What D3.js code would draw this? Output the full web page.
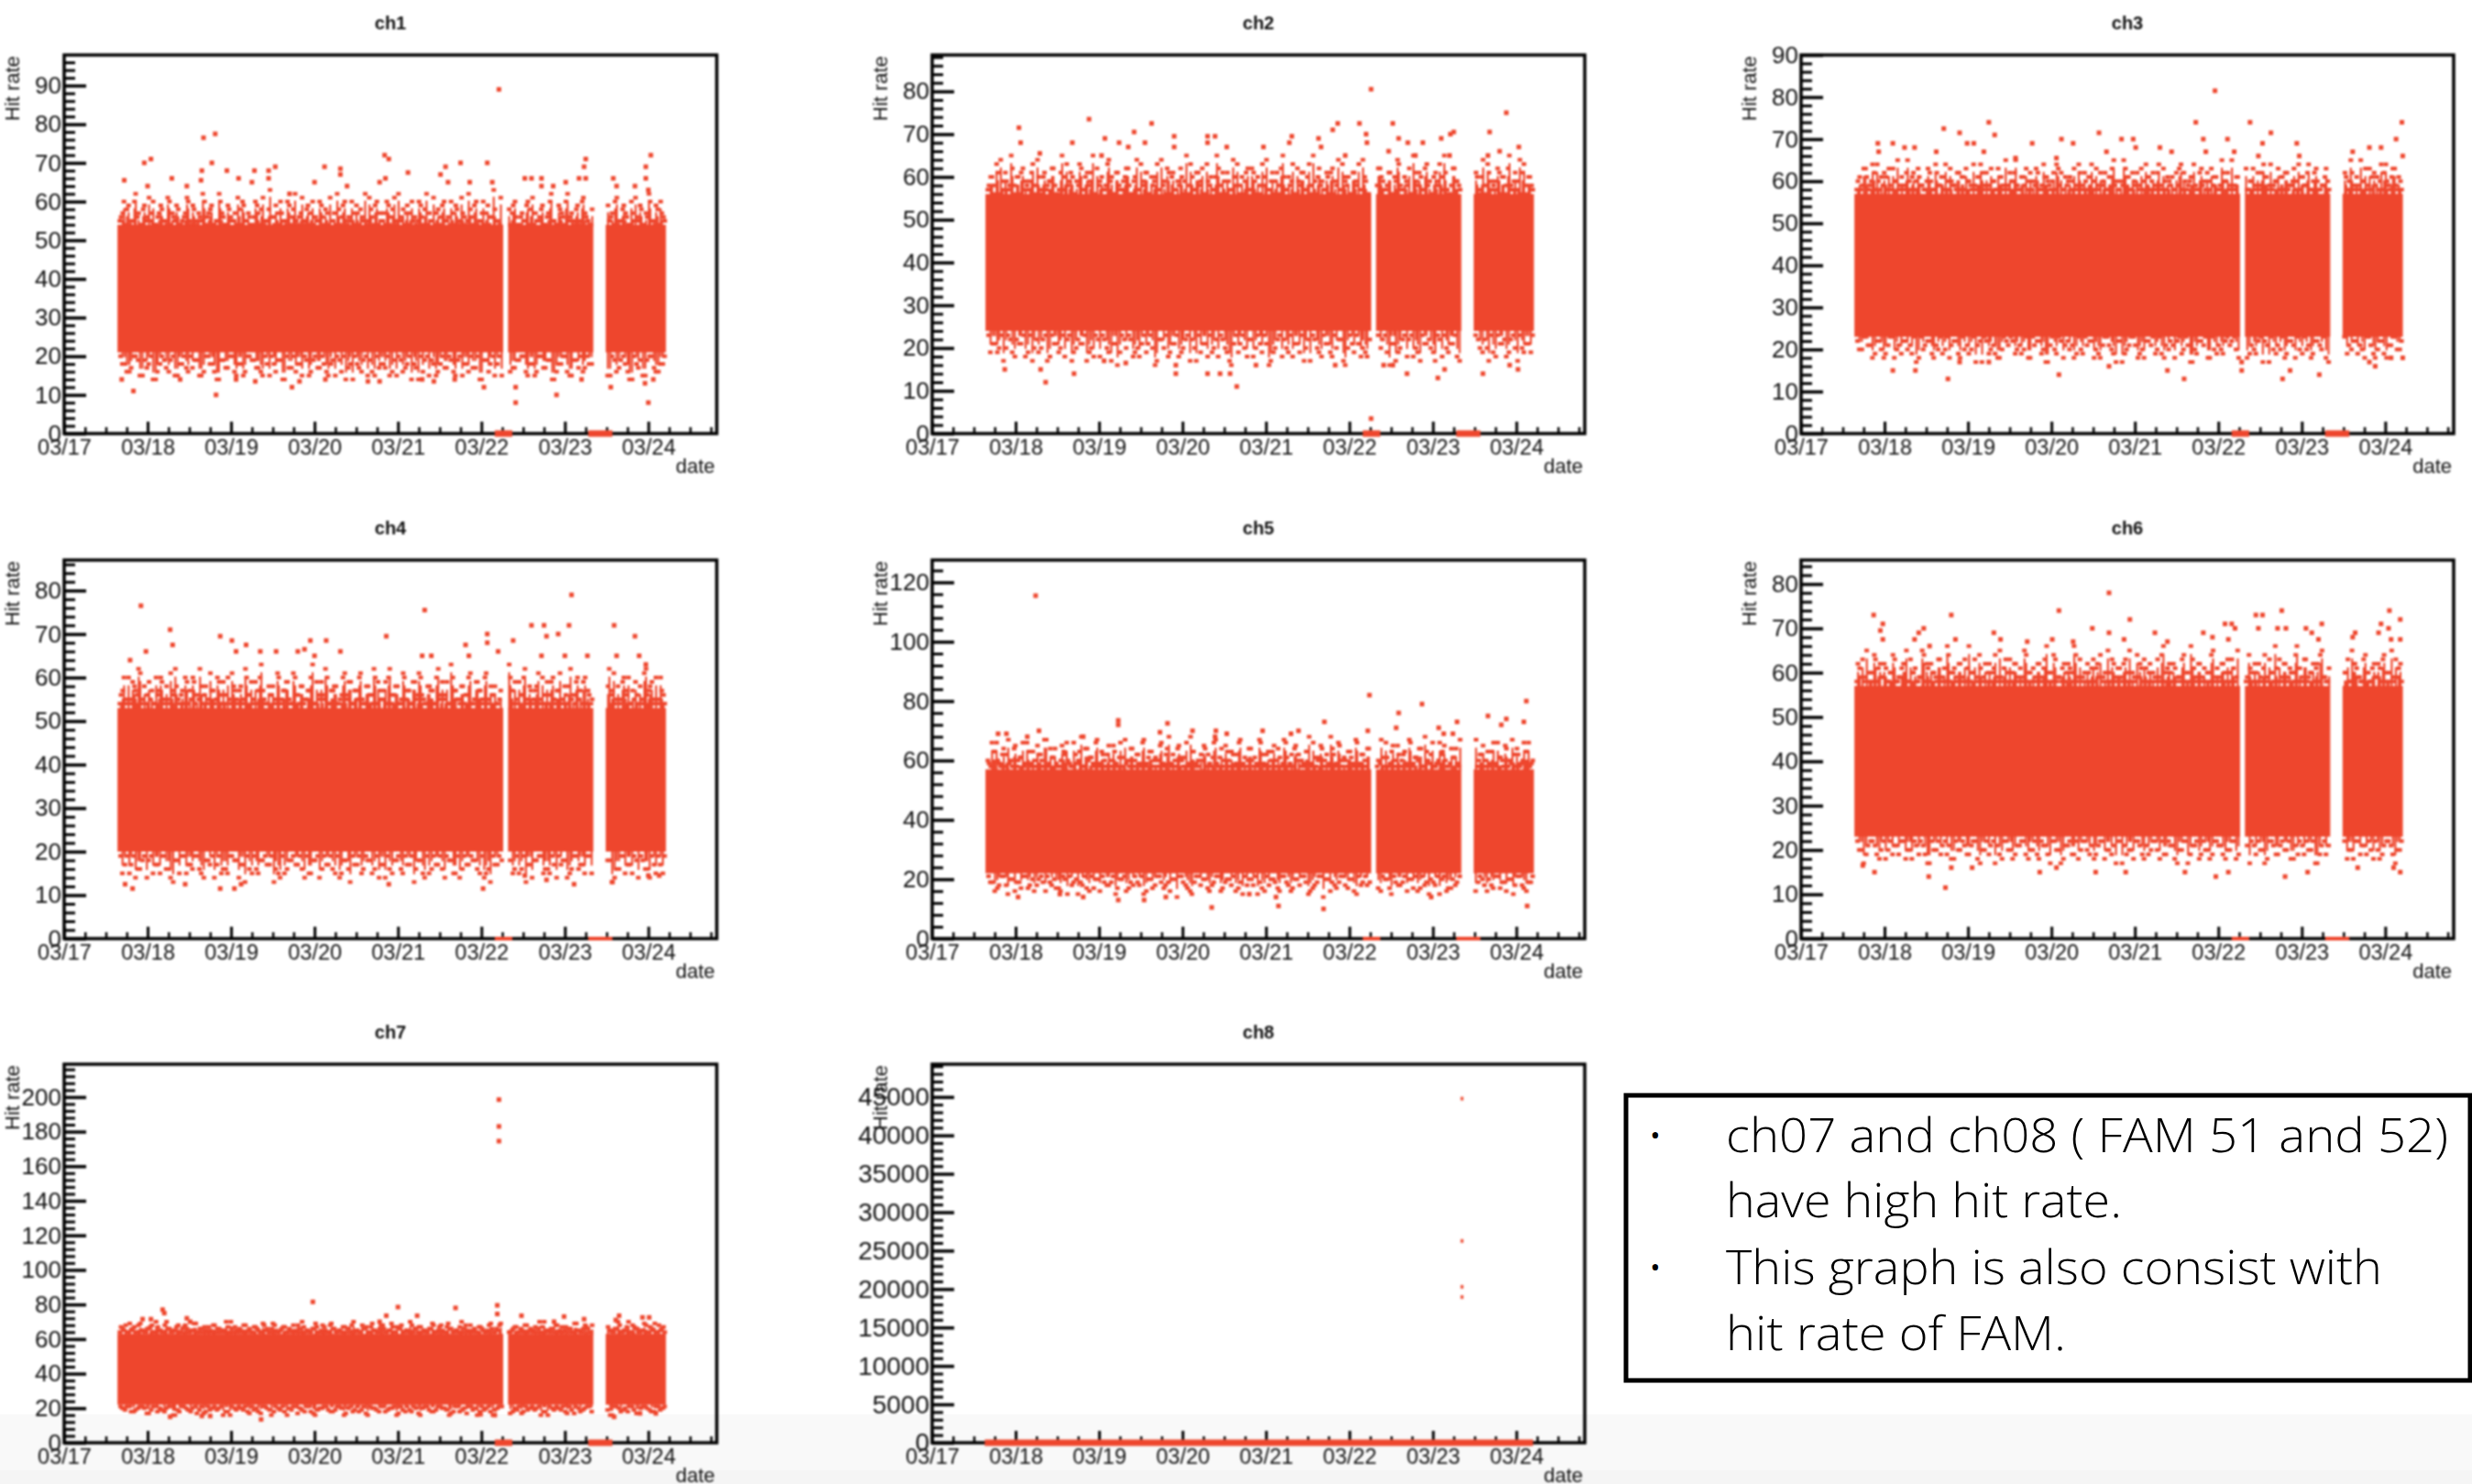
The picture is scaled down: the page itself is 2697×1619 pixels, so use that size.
<!DOCTYPE html>
<html><head><meta charset="utf-8">
<script src="https://cdn.jsdelivr.net/npm/d3@7"></script>
<style>html,body{margin:0;padding:0;background:#fff;overflow:hidden}svg{display:block}</style>
</head><body><svg id="c" width="2697" height="1619"></svg>
<script>
// ---- shared axis content ----
const dateLabels=["03/17","03/18","03/19","03/20","03/21","03/22","03/23","03/24"];
const dateDays=[0,1,2,3,4,5,6,7];
const dayMax=7.82;
const runs=[[0.65,5.25],[5.33,6.33],[6.5,7.2]];     // days after 03/17 with data
const zeroRuns=[[5.16,5.37],[6.28,6.57]];           // hits at zero
const ch8ZeroRuns=[[0.63,7.2]];
const titles=["ch1","ch2","ch3","ch4","ch5","ch6","ch7","ch8"];
const yMaxes=[97.9,88.5,90,87,127.5,85.4,219,49260];
const yMajors=[
 [0,10,20,30,40,50,60,70,80,90],[0,10,20,30,40,50,60,70,80],[0,10,20,30,40,50,60,70,80,90],
 [0,10,20,30,40,50,60,70,80],[0,20,40,60,80,100,120],[0,10,20,30,40,50,60,70,80],
 [0,20,40,60,80,100,120,140,160,180,200],[0,5000,10000,15000,20000,25000,30000,35000,40000,45000]];
const yMinorSteps=[2,2,2,2,4,2,4,1000];
const coreBands=[[21,54],[24,56],[23,57],[20,53],[22,57],[23,57],[22,63]];

// ---- speckled hits just outside the solid cloud, in time order ----
const ch1Top=[55,57,54,59,55,60,56,54,58,55,61,57,54,56,59,55,54,60,57,55,58,54,56,61,55,59,54,57,55,60,56,58,54,55,62,57,54,59,56,55,54,58,60,55,57,54,56,59,54,61,55,58,56,54,57,60,55,54,59,56,62,54,57,55,58,54,60,56,55,59,54,57,61,55,54,58,56,60,54,55,57,59,54,56,62,55,58,54,60,57,55,54,59,56,61,54,55,58,57,54,60,56,55,59,54,62,57,55,54,58,56,60,55,54,57,59,54,61,56,55,58,54,60,55,57,54,59,56,63,55,54,58,57,60,54,56,55,59,54,61,57,55,58,54,56,60,55,54,59,57,54,62,56,55,58,54,60,57,55,54,59,56,54,61,55,58,57,54,60,55,56,59,54,57,62,55,54,58,60,56];
const ch1Bottom=[20,18,16,20,19,15,17,20,14,18,19,16,20,15,18,17,20,19,15,16,20,18,14,19,17,20,16,18,15,20,19,17,16,20,15,18,19,14,20,17,16,18,20,15,19,17,20,16,18,15,19,20,17,14,18,16,20,19,15,17,18,20,16,15,19,17,20,18,14,16,20,19,15,18,17,20,16,19,15,18,20,17,14,19,16,20,18,15,17,19,20,16,18,15,20,17,19,14,16,18,20,15,19,17,16,20,18,15,19,17,20,16,14,18,19,15,20,17,16,18];
const ch2Top=[57,60,58,63,56,59,61,57,65,58,60,56,62,59,57,61,58,64,56,60,57,59,62,58,56,61,57,63,59,60,56,58,62,57,61,59,65,56,58,60,57,63,59,56,61,58,57,60,62,56,59,64,57,58,61,56,60,59,63,57,58,56,61,60,57,59,62,56,65,58,60,57,61,59,56,63,58,57,60,62,56,59,61,57,64,58,56,60,59,62,57,61,56,58,63,60,57,59,56,61,58,65,57,60,59,56,62,58,61,57,63,56,59,60,58,57,61,56,62,59,64,57,60,58,56,61,59,63,57,60,56,58,62,59,57,61,56,60,64,58,57,59,62,56,61,58,60,57,63,59,56,61,58,60,65,57,56,62,59,58,61,57,60,56,63,59,58,57,61,60,56,62,58,59,57,64,61,56,60,58];
const ch2Bottom=[23,21,19,23,20,22,18,21,23,19,17,22,20,23,18,21,19,23,22,17,20,21,23,19,18,22,23,20,17,21,19,22,23,18,20,21,19,23,16,22,20,18,21,23,19,22,17,20,23,21,18,19,22,23,20,17,21,19,23,18,22,20,21,23,16,19,22,18,20,23,21,19,17,22,23,20,18,21,19,23,22,17,20,21,23,18,19,22,20,23,16,21,19,22,18,23,20,17,21,22,19,23,18,20,21,23,17,22,19,20,23,18,21,22,19,23,17,20,21,19];
const ch3Top=[58,61,59,63,58,60,62,64,58,59,61,63,58,60,65,59,58,62,60,61,58,63,59,58,60,62,58,64,59,61,58,60,63,59,58,62,61,58,60,59,64,58,61,62,59,58,63,60,58,61,59,65,58,60,62,59,58,61,63,60,58,59,62,58,64,61,59,60,58,63,62,58,59,61,60,58,64,59,62,58,61,60,63,58,59,62,58,61,65,60,58,59,63,61,58,60,62,59,58,64,61,60,58,62,59,63,58,60,61,58,59,64,62,58,60,61,59,58,63,60,62,58,59,61,58,65,60,62,59,58,61,63,58,60,59,62,58,64,61,59,58,60,63,61,58,62,59,60,58,64,61,59,62,58,60,63,58,59,61,60,62,58,65,59,61,58,60,63,59,58,62,61,60,58,64,59,61,63,58,60];
const ch3Bottom=[22,20,23,21,19,22,18,21,23,20,19,22,21,23,18,20,22,19,21,23,20,18,22,19,23,21,20,17,22,23,19,21,18,20,22,23,19,21,20,18,23,22,19,17,21,20,23,18,22,21,19,20,23,22,18,19,21,23,20,17,22,19,21,23,18,20,22,21,19,23,18,20,21,22,19,23,17,20,22,21,18,23,19,20,22,21,23,18,19,20,22,17,21,23,19,20,18,22,21,23,19,20,18,22,21,23,17,19,20,22,21,18,23,19,20,22,18,21,23,20];
const ch4Top=[54,57,55,60,54,58,56,61,55,54,59,57,54,56,60,55,58,54,57,62,55,56,54,59,57,60,54,55,58,56,54,61,57,55,59,54,56,60,54,58,55,57,54,62,56,59,55,54,60,57,54,58,56,55,61,54,57,59,55,54,60,56,58,54,55,57,63,54,56,59,55,60,54,57,58,54,56,61,55,59,54,57,60,55,54,58,56,62,54,57,55,59,60,54,56,58,54,61,55,57,54,59,56,60,55,54,58,57,54,62,56,55,59,54,60,57,55,58,54,56,61,54,59,57,55,60,54,58,56,54,55,63,57,59,54,56,60,55,58,54,57,61,55,54,59,56,60,54,57,55,58,54,62,56,59,55,54,60,57,54,58,56,61,55,54,59,57,60,54,55,56,58,54,62,57,59,55,54,60,56];
const ch4Bottom=[19,17,15,19,16,18,14,19,17,15,19,16,13,18,19,15,17,19,16,14,18,19,17,15,16,19,18,14,17,19,15,16,18,19,17,13,15,19,16,18,17,19,14,15,18,19,16,17,19,15,14,18,16,19,17,15,19,18,16,14,17,19,15,18,16,19,17,13,18,15,19,16,17,19,14,18,15,19,16,17,19,18,15,14,16,19,17,18,15,19,16,13,17,18,19,15,16,19,14,17,18,15,19,16,17,19,15,18,14,16,19,17,15,18,19,16,14,17,19,15];
const ch5Top=[60,58,63,66,59,62,58,67,60,64,58,61,66,59,63,58,60,65,62,58,67,59,61,64,58,60,63,66,59,58,62,60,68,58,64,61,59,66,58,63,60,62,58,65,59,61,58,67,60,64,58,62,59,66,58,61,63,60,58,65,59,62,68,58,60,64,61,58,66,59,63,58,60,62,65,58,59,61,67,58,64,60,63,58,62,59,66,58,61,60,64,58,59,67,62,58,63,60,65,58,61,59,66,58,62,64,60,58,59,63,68,58,61,60,65,58,62,59,64,58,66,60,61,58,63,59,67,58,62,60,64,58,59,61,66,58,63,60,65,58,62,59,67,58,61,60,64,58,63,59,66,58,60,62,65,58,59,61,64,58,67,60,62,58,63,59,66,58,61,60,65,58,59,62,64,58,60,63,66,59];
const ch5Bottom=[21,19,17,21,18,20,16,19,21,17,20,18,21,16,19,20,17,21,15,18,20,19,21,16,17,20,21,18,19,15,20,21,17,18,19,21,16,20,18,21,17,19,20,14,21,18,16,19,21,20,17,18,21,16,19,20,21,17,15,18,20,21,19,16,18,20,17,21,19,16,20,18,21,15,17,19,21,20,16,18,19,21,17,20,15,18,21,19,16,20,17,21,18,19,16,20,21,17,18,15,19,21,20,16,17,18,21,19,20,16,18,21,17,19,20,15,21,18,16,19];
const ch6Top=[58,61,63,59,58,60,64,58,62,59,61,58,60,63,58,59,62,65,58,60,61,58,59,64,62,58,60,59,63,58,61,66,58,60,59,62,58,63,61,58,60,59,64,58,62,60,58,61,59,65,58,63,60,58,62,59,61,58,64,60,58,59,62,58,61,66,60,58,63,59,58,62,60,61,58,64,59,58,60,62,58,63,61,59,58,60,65,58,62,59,61,58,63,60,58,59,64,62,58,61,60,58,59,63,58,66,60,62,58,61,59,58,64,60,58,63,59,62,58,61,60,58,65,59,58,62,60,63,58,61,59,58,64,60,62,58,59,61,58,63,60,66,58,59,62,58,61,60,64,58,59,63,58,60,62,61,58,65,59,58,60,63,58,62,61,59,58,64,60,58,62,59,61,63,58,60,65,58,59,62];
const ch6Bottom=[22,20,19,22,21,18,22,20,19,21,22,18,20,22,19,21,17,22,20,19,22,21,18,20,22,19,21,22,17,20,19,22,21,18,22,20,19,21,22,18,20,19,22,21,17,22,20,18,21,19,22,20,22,19,18,21,22,20,19,17,22,21,20,18,22,19,21,20,22,18,19,22,21,17,20,22,19,21,18,22,20,19,22,21,18,20,22,19,17,21,22,20,18,22,19,21,20,22,18,19,21,22,20,17,19,22,21,18,20,22,19,21,22,18,20,19,22,21,17,20];
const ch7Top=[64,66,68,64,65,67,64,69,65,64,66,68,64,67,65,64,70,66,64,65,68,64,67,66,64,65,69,64,66,67,64,65,68,64,66,65,64,67,70,64,65,66,64,68,65,64,67,66,64,69,65,64,66,68,64,65,67,64,66,64,65,68,64,67,65,64,66,69,64,65,67,64,68,66,64,65,64,67,66,64,70,65,64,68,66,64,67,65,64,66,68,64,65,69,64,67,66,64,65,64,68,66,64,67,65,64,66,69,64,65,68,64,67,66,64,65,64,70,66,64,68,65,64,67,66,64,65,69,64,66,68,64,65,67,64,66,64,68,65,64,67,66,64,70,65,64,66,68,64,67,65,64,66,64,69,65,64,68,66,64,67,65,64,66,68,64,65,70,64,67,66,64,65,68,64,66,69,64,65,67];
const ch7Bottom=[21,19,21,18,20,21,17,19,21,20,18,21,16,19,21,20,18,21,19,17,21,20,19,21,18,16,20,21,19,18,21,20,17,21,19,18,20,21,16,19,21,20,18,21,17,19,20,21,18,19,21,16,20,18,21,19,17,21,20,18,21,19,20,16,21,18,19,21,17,20,21,18,19,21,20,16,18,21,19,17,21,20,18,19,21,16,20,21,18,19,17,21,20,19,21,18,16,20,21,19,18,21,17,20,19,21,18,16,21,20,19,18,21,17,20,21,19,18,21,20];
const tops=[ch1Top,ch2Top,ch3Top,ch4Top,ch5Top,ch6Top,ch7Top];
const bottoms=[ch1Bottom,ch2Bottom,ch3Bottom,ch4Bottom,ch5Bottom,ch6Bottom,ch7Bottom];

// ---- isolated points [day, value] ----
const ch1Points=[[5.21,89],[1.67,76.5],[1.81,77.5],[.96,70],[1.04,71],[.72,65.5],[1,64],[1.29,66],[1.47,64],[1.64,65.5],[1.65,68],[1.77,70],[1.95,68],[2.09,66],[2.25,65],[2.28,68],[2.45,68],[2.53,69],[2.45,66],[2.7,62],[3,65],[3.12,69],[3.31,68.5],[3.31,67],[3.39,64],[3.78,65],[3.84,72],[3.89,71],[3.85,66],[4.12,67.5],[4.51,67],[4.57,69],[4.6,65],[4.75,70],[4.86,65],[5.07,70],[5.13,65],[5.52,66],[5.6,66],[5.72,66],[5.72,64],[5.86,64],[6.01,65],[6.17,66],[6.23,69],[6.25,71],[6.25,66],[6.58,66],[6.62,64],[6.84,64],[6.97,66],[6.97,69],[7.03,72],[7,63],[.83,11],[1.82,10],[2.73,12],[5.03,12],[5.41,12],[5.41,8],[5.9,10],[6.2,14],[6.55,12],[7,8],[6.96,13],[7.06,14],[.69,14],[1.39,14],[2.06,14],[2.29,13.5],[2.82,13.5],[3.13,14],[3.64,13.5],[3.78,13.5],[4.29,14],[4.43,13.5],[4.68,14]];
const ch2Points=[[5.26,80.5],[1.88,73.5],[2.63,72.5],[1.04,71.5],[1.06,68],[2.42,70.5],[2.9,69.5],[2.9,67],[3.3,69.5],[3.39,69.5],[3.3,68],[1.68,68],[2.07,69],[2.24,68],[2.55,68],[2.35,67],[2.03,65],[1.29,65.5],[3.53,67],[3.97,67],[4.31,69.5],[4.28,68],[4.63,69],[4.66,67],[4.86,72.5],[4.8,71],[5.12,72.5],[5.2,70],[5.21,68],[4.95,65],[5.52,72.5],[5.59,69],[5.47,66],[5.7,68],[5.88,68],[5.79,65],[6.1,69],[6.21,70],[6.25,70.5],[6.2,65],[6.68,70.5],[6.88,75],[7.03,67],[6.8,66],[6.66,65],[5.26,3.5],[.87,15],[1.3,15],[1.36,12],[1.7,14],[2.92,14],[3.3,14],[3.45,14],[3.57,14],[3.65,11],[5.41,16],[5.52,16],[5.69,14],[6.06,13],[6.14,15],[6.6,14],[6.92,16],[7.02,15],[2.06,17],[2.32,16.5],[2.92,16],[3.88,16],[4.83,16]];
const ch3Points=[[4.96,81.5],[1.71,72.5],[1.9,71.5],[2.25,74],[2.32,71],[.92,69],[1.1,69],[.93,67],[1.24,68],[1.36,68],[1.62,67],[1.99,69],[2.07,69],[2.19,67],[2.57,65.5],[2.77,69],[3.12,70],[3.26,69],[3.06,65.5],[3.57,71.5],[3.66,67],[3.84,70],[3.98,70],[4.01,68],[4.3,68],[4.44,67],[4.73,74],[4.82,70],[4.85,67],[5.11,70],[5.19,67],[5.38,74],[5.63,71.5],[5.53,69],[5.48,66],[5.94,69],[5.97,66],[6.61,67],[6.81,68],[6.95,68],[7.13,70],[7.2,74],[7.21,66],[1.1,15],[1.37,15],[1.76,13],[3.09,14],[3.69,16],[4.39,15],[4.59,13],[5.28,15],[5.28,17],[5.77,13],[5.86,15],[6.21,14],[6.81,17],[6.88,16],[7.21,18],[7.07,18],[1.9,17],[2.25,17]];
const ch4Points=[[.92,76.5],[4.32,75.5],[6.08,79],[1.27,71],[1.3,67.5],[.98,66],[.79,64],[1.87,69.5],[2.01,68.5],[2.18,67.5],[2.06,66],[2.35,66],[2.54,66],[2.8,66],[2.88,66.5],[2.95,68.5],[3,65],[3.14,68.5],[3.31,66],[3.86,69.5],[4.29,65],[4.4,65],[4.81,67.5],[4.85,65],[5.07,70],[5.07,68],[5.2,66],[5.38,68.5],[5.6,72],[5.75,72],[5.78,69.5],[5.92,70],[6.05,72],[5.72,65],[6,65],[6.27,65],[6.59,72],[6.62,65],[6.84,69.5],[6.89,65],[6.97,63],[.73,12.5],[.82,11.5],[1.87,11.5],[2.04,11.5],[2.12,12.5],[1.45,12.5],[3.89,12.5],[5.02,11.5],[6.11,12.5],[6.57,13],[5.78,13.5],[7,14.5],[7.13,14.5],[5.52,14.5]];
const ch5Points=[[1.24,115.5],[5.24,82],[5.87,79],[7.12,80],[2.23,73.5],[2.23,72],[2.82,72.5],[2.73,69.5],[3.12,70],[3.4,70],[3.39,68],[3.53,69],[3.96,70],[4.3,69],[4.39,70],[4.7,73],[5.22,70],[5.59,76],[5.56,71],[6.07,71],[6.29,73],[6.13,69],[6.24,69],[6.66,75],[6.88,74],[6.82,72],[7.09,73],[1.28,70],[.89,69],[.79,69],[1.81,68],[1.14,68],[1.03,14],[1.81,14],[2.23,13],[2.54,13],[2.8,14],[3.35,10.5],[4.15,11],[4.12,14],[4.69,10],[3.8,15],[5.98,14],[7.13,11],[1.53,15]];
const ch6Points=[[.87,73],[1.8,73],[3.09,74],[3.69,78],[3.94,72],[.98,71],[.95,69.5],[1.47,70],[1.41,69],[1.36,67.5],[.98,67.5],[1.54,66],[1.85,67.5],[2.31,69],[2.39,67.5],[2.71,67],[3.01,67.5],[3.26,67],[3.49,70],[3.69,69],[3.87,67.5],[4.24,69],[4.39,67],[4.82,69],[4.93,68],[5.08,71],[5.16,71],[5.2,70],[5.12,67.5],[5.45,73],[5.53,73],[5.48,70],[5.76,74],[5.71,70],[5.81,70],[6.05,70],[6.12,69],[6.24,71],[6.2,67.5],[6.64,69],[6.61,68],[6.92,69],[6.95,71],[7.05,74],[7.04,70],[7.18,72],[7.18,67.5],[7.07,67.5],[.74,16.5],[.88,15],[1.53,14],[1.73,11.5],[1.8,16],[2.05,16],[2.86,15],[3.06,16],[3.53,15],[3.89,15],[4.6,15],[4.97,14],[5.12,15],[5.8,14],[6.07,15],[6.67,16],[7.18,15],[7.1,16]];
const ch7Points=[[5.21,198.5],[5.21,183],[5.21,174.5],[2.98,81.5],[4,78.5],[4.69,78],[5.19,79.5],[5.19,74.5],[1.18,77],[1.2,75],[.94,71.5],[1.04,71.5],[1.47,72],[1.51,70],[3.86,73.5],[4.23,73.5],[3.78,70],[5.48,73.5],[5.99,73],[5.87,70],[6.23,71.5],[6.65,73.5],[6.61,71],[6.93,72.5],[7.01,72.5],[1.27,15],[1.65,15.5],[1.75,15.5],[2.36,13.5],[4.99,16.5],[5.16,16],[6.59,15],[6.9,17],[7.09,17]];
const ch8Points=[[6.36,44720],[6.36,26200],[6.36,20230],[6.36,18900]];
const points=[ch1Points,ch2Points,ch3Points,ch4Points,ch5Points,ch6Points,ch7Points,ch8Points];

// ---- note ----
const noteLines=["ch07 and ch08 ( FAM 51 and 52)","have high hit rate.","This graph is also consist with","hit rate of FAM."];
const noteWidths=[788,432,716,371];
const noteBullets=[true,false,true,false];

// ---- layout ----
const colLefts=[70,1017,1965], colWidth=712;
const rowTops=[60,611,1161], plotHeight=413;
const red="#ee462d", sans="'Liberation Sans',Arial,sans-serif";
const svg=d3.select("#c");
svg.append("rect").attr("width",2697).attr("height",1619).attr("fill","#fff");
svg.append("rect").attr("y",1543).attr("width",2697).attr("height",76).attr("fill","#f9f9f9");
svg.append("rect").attr("y",1604).attr("width",2697).attr("height",15).attr("fill","#f5f5f5");
const charts=svg.append("g").style("filter","blur(0.9px)");

// time position along the concatenated runs, fraction 0..1 -> day
const runLen=runs.map(r=>r[1]-r[0]), runTotal=d3.sum(runLen);
const fracDom=[],fracRng=[];let acc=0;
runs.forEach((r,k)=>{fracDom.push(acc/runTotal);fracRng.push(r[0]);acc+=runLen[k];fracDom.push(acc/runTotal);fracRng.push(r[1]);});
const dayAt=d3.scaleLinear().domain(fracDom).range(fracRng);

titles.forEach((title,i)=>{
  const L=colLefts[i%3],T=rowTops[Math.floor(i/3)],B=T+plotHeight,R=L+colWidth;
  const x=d3.scaleLinear().domain([0,dayMax]).range([L,R]);
  const y=d3.scaleLinear().domain([0,yMaxes[i]]).range([B,T]);
  const g=charts.append("g");
  // the solid skyline stops this far short of each speckled hit
  const stemGap=i==4||i==6?3:2;

  if(i<7){
    runs.forEach(run=>{
      g.append("rect").attr("x",x(run[0])-1).attr("width",x(run[1])-x(run[0])+2)
        .attr("y",y(coreBands[i][1])).attr("height",y(coreBands[i][0])-y(coreBands[i][1])).attr("fill",red);
    });
    [[tops[i],coreBands[i][1],-1],[bottoms[i],coreBands[i][0],1]].forEach(([list,edge,dir])=>{
      const n=list.length;
      const cloud=[],stems=[];
      list.forEach((v,k)=>{
        cloud.push({f:(k+0.5)/n,v});
        cloud.push({f:(n-k-0.1)/n,v});
        stems.push({f:(k+0.5)/n,v0:edge,v1:v+dir*stemGap});
        stems.push({f:(k+0.95)/n,v0:edge,v1:list[n-1-k]+dir*stemGap});
      });
      g.append("g").selectAll("rect").data(stems.filter(d=>dir<0?d.v1>d.v0:d.v1<d.v0)).join("rect")
        .attr("x",d=>x(dayAt(d.f))-1.1).attr("width",2.2)
        .attr("y",d=>Math.min(y(d.v0),y(d.v1))-1)
        .attr("height",d=>Math.abs(y(d.v0)-y(d.v1))+2).attr("fill",red);
      g.append("g").selectAll("rect").data(cloud).join("rect")
        .attr("x",d=>x(dayAt(d.f))-2.5).attr("y",d=>y(d.v)-2).attr("width",5).attr("height",4).attr("fill",red);
    });
  }
  g.append("g").selectAll("rect").data(points[i]).join("rect")
    .attr("x",d=>x(d[0])-2.5).attr("y",d=>y(d[1])-2.5).attr("width",i==7?3:5).attr("height",i==7?4:5).attr("fill",red);

  // frame
  g.append("rect").attr("x",L).attr("y",T).attr("width",colWidth).attr("height",plotHeight)
    .attr("fill","none").attr("stroke","#000").attr("stroke-width",3.5);

  // axes
  const styleAxis=(a,w)=>{a.select(".domain").remove();a.selectAll("line").attr("stroke","#000").attr("stroke-width",w);};
  const yStep=yMinorSteps[i];
  const minorY=d3.range(0,yMaxes[i],yStep).filter(v=>!yMajors[i].includes(v));
  g.append("g").attr("transform",`translate(${L},0)`)
    .call(d3.axisLeft(y).tickValues(minorY).tickSizeInner(-12).tickSizeOuter(0).tickFormat(""))
    .call(a=>styleAxis(a,3));
  const ya=g.append("g").attr("transform",`translate(${L},0)`)
    .call(d3.axisLeft(y).tickValues(yMajors[i]).tickSizeInner(-24).tickSizeOuter(0).tickPadding(3).tickFormat(d3.format("d")));
  styleAxis(ya,3.5);
  ya.selectAll("text").attr("fill","#111").attr("font-family",sans).attr("font-size",i==7?28:26);

  const minorX=d3.range(0,dayMax,0.25).filter(v=>!dateDays.includes(v));
  g.append("g").attr("transform",`translate(0,${B})`)
    .call(d3.axisBottom(x).tickValues(minorX).tickSizeInner(-7).tickSizeOuter(0).tickFormat(""))
    .call(a=>styleAxis(a,2.5));
  const xa=g.append("g").attr("transform",`translate(0,${B})`)
    .call(d3.axisBottom(x).tickValues(dateDays).tickSizeInner(-13).tickSizeOuter(0).tickPadding(6).tickFormat(d=>dateLabels[d]));
  styleAxis(xa,3);
  xa.selectAll("text").attr("fill","#111").attr("font-family",sans).attr("font-size",23.5);

  // red hits at zero over the axis line
  const thin=i>=3&&i<=5;
  const zr=i==7?ch8ZeroRuns:zeroRuns;
  g.append("g").selectAll("rect").data(zr).join("rect")
    .attr("x",d=>x(d[0])).attr("width",d=>x(d[1])-x(d[0]))
    .attr("y",y(0)-(thin?2:3.5)).attr("height",thin?4:7).attr("fill",red);

  g.append("text").attr("x",(L+R)/2).attr("y",T-28).attr("text-anchor","middle")
    .attr("font-family",sans).attr("font-size",20).attr("font-weight",700).attr("fill","#111").text(title);
  g.append("text").attr("transform",`translate(${L-49},${T+1}) rotate(-90)`).attr("text-anchor","end")
    .attr("font-family",sans).attr("font-size",22).attr("fill","#111").text("Hit rate");
  g.append("text").attr("x",R-2).attr("y",B+43).attr("text-anchor","end")
    .attr("font-family",sans).attr("font-size",22).attr("fill","#111").text("date");
});

// note box
svg.append("rect").attr("x",1774).attr("y",1195).attr("width",921).attr("height",311)
  .attr("fill","#fff").attr("stroke","#000").attr("stroke-width",5);
const baselines=[1257,1328,1401,1473];
noteLines.forEach((t,i)=>{
  svg.append("text").attr("x",1883).attr("y",baselines[i]).attr("font-family","'Open Sans',sans-serif")
    .attr("font-weight",300).attr("font-size",52).attr("fill","#000")
    .attr("textLength",noteWidths[i]).attr("lengthAdjust","spacingAndGlyphs").text(t);
  if(noteBullets[i]) svg.append("text").attr("x",1806).attr("y",baselines[i]-8).attr("text-anchor","middle")
    .attr("font-family","'Open Sans',sans-serif").attr("font-size",30).attr("fill","#000").text("•");
});
</script></body></html>
